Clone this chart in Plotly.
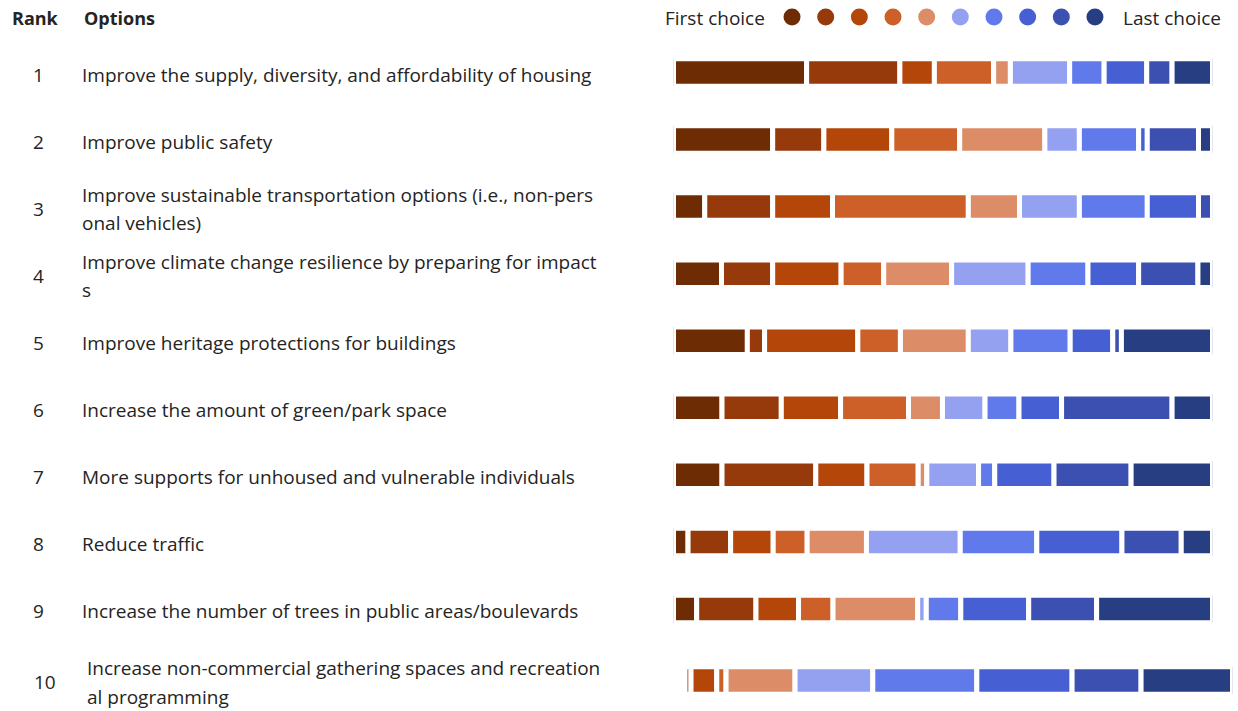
import plotly.graph_objects as go

# rank order of the options
ranks = [1, 2, 3, 4, 5, 6, 7, 8, 9, 10]
options = [
    "Improve the supply, diversity, and affordability of housing",
    "Improve public safety",
    "Improve sustainable transportation options (i.e., non-pers\nonal vehicles)",
    "Improve climate change resilience by preparing for impact\ns",
    "Improve heritage protections for buildings",
    "Increase the amount of green/park space",
    "More supports for unhoused and vulnerable individuals",
    "Reduce traffic",
    "Increase the number of trees in public areas/boulevards",
    "Increase non-commercial gathering spaces and recreation\nal programming",
]

# share of respondents (%) placing each option at each choice position
choice_1 = [24.7, 18.4, 5.8, 8.9, 13.7, 9.0, 9.0, 2.7, 4.3, 0.0]
choice_2 = [17.3, 9.5, 12.6, 9.5, 3.2, 11.0, 17.4, 7.9, 11.0, 1.1]
choice_3 = [6.4, 12.6, 11.1, 12.7, 17.3, 11.0, 9.5, 7.9, 7.9, 4.7]
choice_4 = [11.0, 12.6, 25.2, 7.9, 7.9, 12.6, 9.5, 6.3, 6.4, 1.7]
choice_5 = [3.1, 15.8, 9.5, 12.6, 12.6, 6.3, 1.6, 11.0, 15.7, 12.6]
choice_6 = [11.0, 6.4, 11.1, 14.2, 7.9, 7.9, 9.6, 17.4, 1.6, 14.2]
choice_7 = [6.4, 11.0, 12.6, 11.1, 11.0, 6.3, 3.0, 14.2, 6.4, 19.0]
choice_8 = [7.9, 1.6, 9.5, 9.4, 7.9, 7.9, 11.0, 15.8, 12.6, 17.4]
choice_9 = [4.7, 9.5, 2.6, 11.0, 1.6, 20.5, 14.3, 11.0, 12.6, 12.6]
choice_10 = [7.5, 2.6, 0.0, 2.7, 16.9, 7.5, 15.1, 5.8, 21.5, 16.7]

choices = [choice_1, choice_2, choice_3, choice_4, choice_5,
           choice_6, choice_7, choice_8, choice_9, choice_10]

COLORS = ["#6e2c05", "#963a0c", "#b4460a", "#cd5f28", "#dc8c66",
          "#94a1f0", "#607aeb", "#4660d3", "#3c50b1", "#283e82"]

FONT = "Segoe UI, Open Sans, sans-serif"
TEXT = "#252423"
W, H = 1238, 711
ROW_PX = 67.06      # pixel distance between rows
FIRST_ROW_PX = 72.5  # pixel centre of the first row
HEADER_Y = (17 - FIRST_ROW_PX) / ROW_PX
LAST = len(ranks) - 1  # the last row is drawn a bit wider/offset in the original
LAST_DROP = 4.5 / ROW_PX

y_idx = list(range(len(ranks)))
y_range = [(H - FIRST_ROW_PX) / ROW_PX, -FIRST_ROW_PX / ROW_PX]

fig = go.Figure()

# stacked segments, base computed from running totals;
# rows 1-9 on x/y, row 10 on its own slightly shifted axes x3/y3
running = [0.0] * len(ranks)
for k, vals in enumerate(choices):
    for rows, xa, ya in ((y_idx[:LAST], "x", "y"), (y_idx[LAST:], "x3", "y3")):
        fig.add_trace(go.Bar(
            x=[vals[i] for i in rows],
            y=rows,
            base=[running[i] for i in rows],
            xaxis=xa,
            yaxis=ya,
            orientation="h",
            width=0.41,
            marker=dict(color=COLORS[k], line=dict(color="white", width=5)),
            hoverinfo="skip",
            showlegend=False,
        ))
    running = [r + v for r, v in zip(running, vals)]

# legend dots
fig.add_trace(go.Scatter(
    x=list(range(10)),
    y=[HEADER_Y] * 10,
    xaxis="x2",
    yaxis="y",
    mode="markers",
    marker=dict(size=17, color=COLORS),
    hoverinfo="skip",
    showlegend=False,
))

annotations = [
    dict(text="<b>Rank</b>", x=35 / W, xanchor="center", font_size=18),
    dict(text="<b>Options</b>", x=82 / W, xanchor="left", font_size=18),
    dict(text="First choice", x=767 / W, xanchor="right", font_size=19),
    dict(text="Last choice", x=1121 / W, xanchor="left", font_size=19),
]
for a in annotations:
    a.update(xref="paper", y=HEADER_Y, yref="y", yanchor="middle", yshift=-1,
             showarrow=False, font=dict(family=FONT, size=a.pop("font_size"), color=TEXT))

for i, (rank, label) in enumerate(zip(ranks, options)):
    last = i == LAST
    annotations.append(dict(
        text=str(rank), x=38 / W, xref="paper", xanchor="center",
        y=i, yref="y", yanchor="middle", yshift=-2 - (4 if last else 0),
        xshift=7 if last else 0, showarrow=False,
        font=dict(family=FONT, size=19, color=TEXT)))
    lines = label.split("\n")
    for j, line in enumerate(lines):
        off = (j - (len(lines) - 1) / 2) * 28.5
        annotations.append(dict(
            text=line, x=80 / W, xref="paper", xanchor="left",
            y=i, yref="y", yanchor="middle",
            yshift=-off - 2.5 - (4 if last else 0), xshift=5 if last else 0,
            showarrow=False, font=dict(family=FONT, size=19, color=TEXT)))

fig.update_layout(
    width=W,
    height=H,
    margin=dict(l=0, r=0, t=0, b=0),
    paper_bgcolor="white",
    plot_bgcolor="rgba(0,0,0,0)",
    barmode="overlay",
    annotations=annotations,
    xaxis=dict(domain=[673.5 / W, 1212.5 / W], range=[0, 100], visible=False,
               fixedrange=True),
    xaxis2=dict(domain=[775.2 / W, 1111.8 / W], range=[-0.5, 9.5], anchor="y",
                visible=False, fixedrange=True),
    xaxis3=dict(domain=[685 / W, 1232.5 / W], range=[0, 100], anchor="y3",
                visible=False, fixedrange=True),
    yaxis=dict(range=y_range, visible=False, fixedrange=True),
    yaxis3=dict(range=[y_range[0] - LAST_DROP, y_range[1] - LAST_DROP],
                anchor="x3", visible=False, fixedrange=True),
)

fig.write_html("out.html", config={"displayModeBar": False},
               post_script="document.body.style.margin='0';")
